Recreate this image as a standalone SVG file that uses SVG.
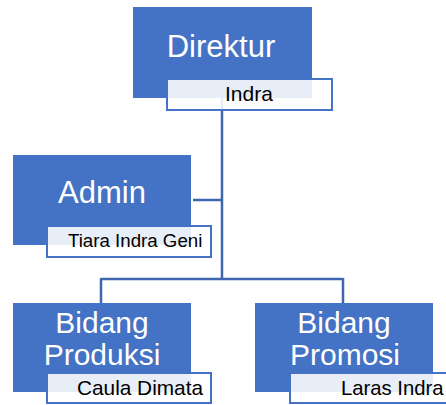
<svg xmlns="http://www.w3.org/2000/svg" width="446" height="405" viewBox="0 0 446 405">
<style>
.box{fill:#4472C4;}
.lbl{fill:#ffffff;fill-opacity:0.88;stroke:#4472C4;stroke-width:2;}
.title{font-family:"Liberation Sans",Arial,sans-serif;fill:#ffffff;text-anchor:middle;}
.name{font-family:"Liberation Sans",Arial,sans-serif;fill:#000000;}
.conn{stroke:#3E67B0;stroke-width:2.5;fill:none;}
</style>
<rect width="446" height="405" fill="#ffffff"/>
<g id="connectors">
<path class="conn" d="M222,98 V279"/>
<path class="conn" d="M193,200 H222"/>
<path class="conn" d="M101,279 H343"/>
<path class="conn" d="M101,278 V303"/>
<path class="conn" d="M343,278 V303"/>
</g>
<g id="direktur">
<rect class="box" x="133" y="7" width="179" height="91"/>
<text class="title" x="221" y="57" font-size="31">Direktur</text>
<rect class="lbl" x="167" y="79" width="165" height="31"/>
<text class="name" x="225" y="101" font-size="21">Indra</text>
</g>
<g id="admin">
<rect class="box" x="13" y="155" width="178" height="90"/>
<text class="title" x="102" y="203" font-size="31">Admin</text>
<rect class="lbl" x="47" y="226" width="164" height="31"/>
<text class="name" x="68" y="247" font-size="18.7">Tiara Indra Geni</text>
</g>
<g id="bidang-produksi">
<rect class="box" x="13" y="303" width="178" height="89"/>
<text class="title" x="102" y="333" font-size="30">Bidang</text>
<text class="title" x="102" y="365" font-size="30">Produksi</text>
<rect class="lbl" x="47" y="373" width="164" height="30"/>
<text class="name" x="77" y="395" font-size="20.8">Caula Dimata</text>
</g>
<g id="bidang-promosi">
<rect class="box" x="255" y="303" width="178" height="89"/>
<text class="title" x="344" y="333" font-size="30">Bidang</text>
<text class="title" x="345" y="365" font-size="30">Promosi</text>
<rect class="lbl" x="290" y="373" width="164" height="30"/>
<text class="name" x="341" y="395" font-size="20.3">Laras Indra</text>
</g>
</svg>
